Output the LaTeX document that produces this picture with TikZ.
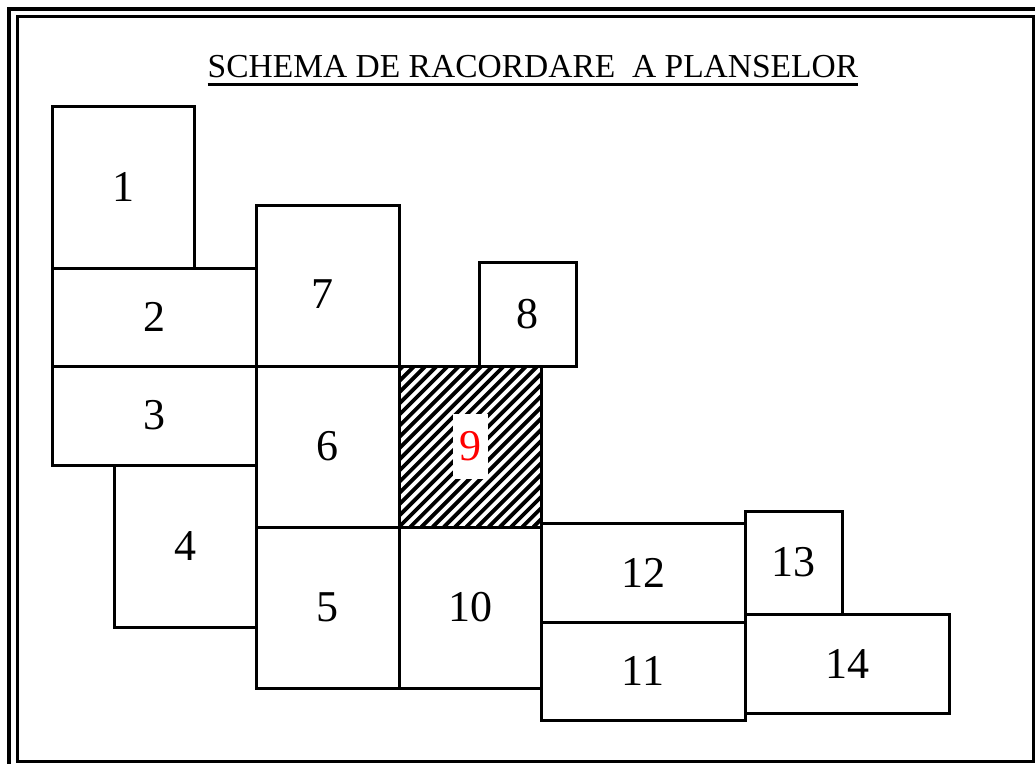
\documentclass[tikz,border=0pt]{standalone}
\usepackage{fontspec}
\setmainfont{Liberation Serif}
\usetikzlibrary{positioning}

\begin{document}
\begin{tikzpicture}[
  x=1pt, y=-1pt,
  frame/.style={draw, line width=3pt},
  sheet/.style={draw, line width=3pt, rectangle, inner sep=0pt,
    font=\fontsize{44}{50}\selectfont},
  hatched/.style={path picture={
    \foreach \k in {-16,...,15}
      \draw[line width=3.8pt]
        ([xshift=\k*11.2pt]path picture bounding box.south west) -- ++(185,-185);
  }},
  headline/.style={inner sep=0pt, anchor=base, font=\fontsize{33.5}{38}\selectfont}
]
\useasboundingbox (0,0) rectangle (1035,763);
\fill[white] (0,0) rectangle (1035,763);
\draw[frame, line width=3.5pt] (9,9) rectangle (1045,775);
\draw[frame] (17,16) rectangle (1033,761);

\node[headline] (title) at (533,77) {SCHEMA DE RACORDARE\ \ A PLANSELOR};
\draw[line width=3pt] ([yshift=-7pt]title.base west) -- ([yshift=-7pt]title.base east);

\node[sheet, minimum width=142pt, minimum height=162pt] (s1) at (123,187) {1};
\node[sheet, minimum width=204pt, minimum height=98pt] (s2) at (154,317) {2};
\node[sheet, minimum width=204pt, minimum height=99pt] (s3) at (154,415.5) {3};
\node[sheet, minimum width=142pt, minimum height=162pt] (s4) at (185,546) {4};
\node[sheet, minimum width=143pt, minimum height=161pt] (s7) at (327.5,285.5) {};
\node[sheet, draw=none] (lbl7) at ([xshift=-5pt,yshift=-9pt]s7.center) {7};
\node[sheet, minimum width=143pt, minimum height=161pt] (s6) at (327.5,446.5) {6};
\node[sheet, minimum width=143pt, minimum height=161pt] (s5) at (327.5,607.5) {5};
\node[sheet, minimum width=97pt, minimum height=104pt] (s8) at (527.5,314) {8};
\node[sheet, hatched, minimum width=142pt, minimum height=161pt] (s9) at (470,446.5) {};
\node[sheet, draw=none, fill=white, text=red, minimum width=35pt,
  minimum height=65pt] (lbl9) at (s9) {9};
\node[sheet, minimum width=142pt, minimum height=161pt] (s10) at (470,607.5) {10};
\node[sheet, minimum width=204pt, minimum height=99pt] (s12) at (643,572.5) {12};
\node[sheet, minimum width=204pt, minimum height=98pt] (s11) at (643,671) {11};
\node[sheet, minimum width=97pt, minimum height=103pt] (s13) at (793.5,562.5) {13};
\node[sheet, minimum width=204pt, minimum height=99pt] (s14) at (847,663.5) {14};
\end{tikzpicture}
\end{document}
